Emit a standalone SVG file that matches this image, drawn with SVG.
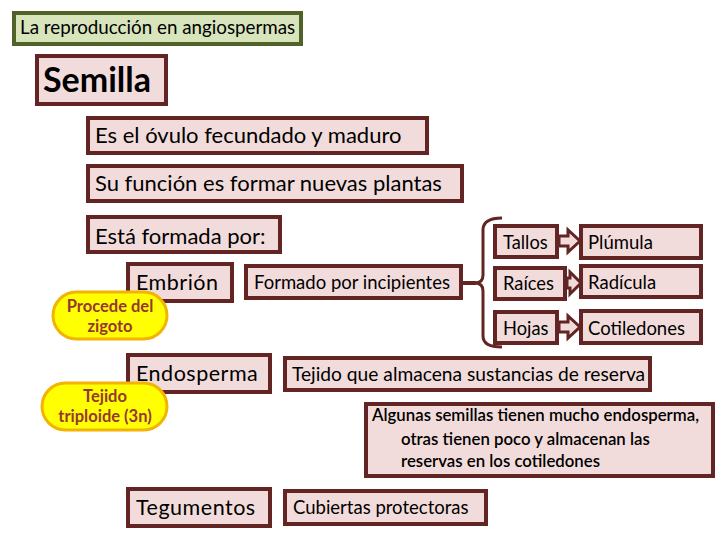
<svg xmlns="http://www.w3.org/2000/svg" width="720" height="540" viewBox="0 0 720 540">
<style>
.box{fill:#f2dcdb;stroke:#632523;stroke-width:4}
.t{font-family:Lato,"Liberation Sans",sans-serif;fill:#000}
.ell{fill:#ffff00;stroke:#f2b400;stroke-width:3}
.et{font-family:Lato,"Liberation Sans",sans-serif;font-weight:bold;font-size:16.5px;fill:#953735;text-anchor:middle}
.arr{fill:#f2dcdb;stroke:#632523;stroke-width:3;stroke-linejoin:miter}
.con{fill:none;stroke:#632523;stroke-width:3}
</style>
<rect width="720" height="540" fill="#fff"/>
<g id="title"><rect x="14" y="13" width="287" height="31" fill="#d7e4bc" stroke="#4f6228" stroke-width="4"/><text class="t" x="20" y="34" font-size="18.8">La reproducción en angiospermas</text></g>
<g id="semilla"><rect class="box" x="37" y="56" width="129" height="48"/><text class="t" x="43" y="92" font-size="34" font-weight="bold">Semilla</text></g>
<g id="ovulo"><rect class="box" x="88" y="118" width="339" height="35"/><text class="t" x="95" y="143" font-size="22">Es el óvulo fecundado y maduro</text></g>
<g id="funcion"><rect class="box" x="88" y="166" width="374" height="35"/><text class="t" x="95" y="191" font-size="22">Su función es formar nuevas plantas</text></g>
<g id="formada"><rect class="box" x="88" y="217" width="192" height="35"/><text class="t" x="95" y="244" font-size="22">Está formada por:</text></g>
<g id="embrion"><rect class="box" x="128" y="264" width="104" height="37"/><text class="t" x="136" y="290" font-size="21.5" letter-spacing="0.5">Embrión</text></g>
<g id="procede"><rect class="ell" x="53" y="292" width="114" height="47" rx="23.5"/><text class="et" x="110" y="312">Procede del</text><text class="et" x="110" y="332">zigoto</text></g>
<g id="formado"><rect class="box" x="246" y="266" width="215" height="32"/><text class="t" x="254" y="289" font-size="18.5">Formado por incipientes</text></g>
<g id="tallos"><rect class="box" x="495" y="226" width="62" height="31"/><text class="t" x="503" y="249" font-size="18.3">Tallos</text></g>
<g id="raices"><rect class="box" x="495" y="268" width="70" height="31"/><text class="t" x="503" y="290" font-size="18.3">Raíces</text></g>
<g id="hojas"><rect class="box" x="495" y="312" width="62" height="31"/><text class="t" x="503" y="335" font-size="18.3">Hojas</text></g>
<g id="plumula"><rect class="box" x="581" y="226" width="120" height="32"/><text class="t" x="588" y="249" font-size="18.5">Plúmula</text></g>
<g id="radicula"><rect class="box" x="581" y="266" width="120" height="31"/><text class="t" x="588" y="289" font-size="18.5">Radícula</text></g>
<g id="cotiledones"><rect class="box" x="581" y="311" width="120" height="32"/><text class="t" x="588" y="335" font-size="18.5">Cotiledones</text></g>
<g id="endosperma"><rect class="box" x="128" y="355" width="142" height="37"/><text class="t" x="136" y="381" font-size="21.5" letter-spacing="0.5">Endosperma</text></g>
<g id="triploide"><rect class="ell" x="42" y="383" width="125" height="47" rx="23.5"/><text class="et" x="105" y="402">Tejido</text><text class="et" x="105" y="422">triploide (3n)</text></g>
<g id="tejido"><rect class="box" x="285" y="358" width="365" height="32"/><text class="t" x="292" y="381" font-size="19.2">Tejido que almacena sustancias de reserva</text></g>
<g id="algunas"><rect class="box" x="366" y="404" width="347" height="72"/><text class="t" font-size="16.8" font-weight="600"><tspan x="372" y="421">Algunas semillas tienen mucho endosperma,</tspan><tspan x="401" y="445">otras tienen poco y almacenan las</tspan><tspan x="401" y="467">reservas en los cotiledones</tspan></text></g>
<g id="tegumentos"><rect class="box" x="128" y="489" width="142" height="37"/><text class="t" x="136" y="515" font-size="21.5" letter-spacing="0.5">Tegumentos</text></g>
<g id="cubiertas"><rect class="box" x="285" y="491" width="201" height="33"/><text class="t" x="293" y="514" font-size="18.5">Cubiertas protectoras</text></g>
<g id="connectors">
<path class="con" d="M502,218 Q483,218 483,230 L483,275 Q483,283 475,283 Q483,283 483,291 L483,336 Q483,347 502,347"/>
<line x1="461" y1="283" x2="476" y2="283" stroke="#632523" stroke-width="4"/>
<polygon class="arr" points="559,236 568,236 568,230 580,241 568,252 568,246 559,246"/>
<polygon class="arr" points="567,278 570,278 570,272 581,283 570,294 570,288 567,288"/>
<polygon class="arr" points="559,322 568,322 568,316 580,327 568,338 568,332 559,332"/>
</g>
</svg>
